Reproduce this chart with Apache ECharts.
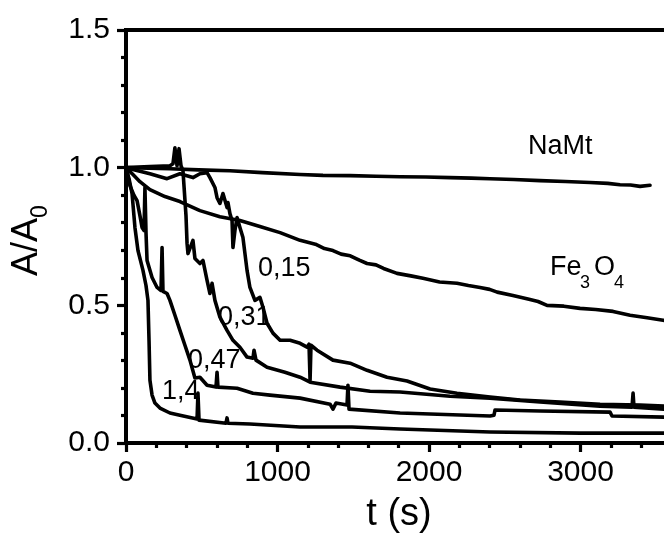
<!DOCTYPE html>
<html>
<head>
<meta charset="utf-8">
<script src="https://cdn.jsdelivr.net/npm/echarts@6/dist/echarts.min.js"></script>
<style>
  html, body { margin: 0; padding: 0; background: #fff; }
  #chart { width: 664px; height: 533px; }
</style>
</head>
<body>
<div id="chart"></div>
<script>
// Relative absorbance A/A0 versus time for each sample
const tNaMt = [0, 150, 290, 480, 686, 900, 1149, 1300, 1479, 1650, 1809, 1980, 2139, 2280, 2403, 2560, 2733, 2900, 3063, 3180, 3261, 3330, 3393, 3459];
const yNaMt = [1.000, 0.998, 0.996, 0.992, 0.989, 0.982, 0.975, 0.972, 0.971, 0.969, 0.967, 0.966, 0.964, 0.962, 0.960, 0.957, 0.953, 0.950, 0.946, 0.943, 0.938, 0.937, 0.932, 0.936];

const tFe = [0, 46, 92, 158, 257, 356, 488, 620, 752, 884, 1017, 1149, 1250, 1310, 1366, 1420, 1480, 1540, 1591, 1650, 1700, 1789, 1880, 1960, 2070, 2185, 2260, 2337, 2400, 2450, 2554, 2660, 2720, 2779, 2890, 2997, 3100, 3215, 3327, 3440, 3545, 3600];
const yFe = [1.000, 0.975, 0.949, 0.920, 0.895, 0.877, 0.844, 0.822, 0.808, 0.786, 0.764, 0.736, 0.722, 0.706, 0.699, 0.686, 0.680, 0.664, 0.652, 0.647, 0.634, 0.616, 0.607, 0.598, 0.585, 0.580, 0.572, 0.565, 0.558, 0.548, 0.536, 0.522, 0.514, 0.500, 0.497, 0.489, 0.485, 0.478, 0.464, 0.455, 0.446, 0.442];

const t015 = [0, 158, 271, 356, 442, 488, 535, 554, 587, 601, 620, 640, 667, 673, 686, 700, 706, 719, 733, 752, 772, 799, 818, 851, 884, 904, 931, 970, 1017, 1083, 1149, 1195, 1208, 1215, 1221, 1261, 1366, 1479, 1591, 1723, 1855, 2007, 2185, 2403, 2601, 2865, 3129, 3393, 3551, 3600];
const y015 = [1.000, 0.978, 0.960, 0.978, 0.964, 0.978, 0.982, 0.964, 0.928, 0.891, 0.870, 0.906, 0.855, 0.873, 0.833, 0.808, 0.710, 0.772, 0.819, 0.783, 0.746, 0.627, 0.565, 0.518, 0.529, 0.493, 0.435, 0.399, 0.373, 0.373, 0.362, 0.348, 0.359, 0.228, 0.355, 0.337, 0.301, 0.290, 0.264, 0.239, 0.225, 0.196, 0.181, 0.167, 0.156, 0.149, 0.141, 0.138, 0.134, 0.133];

const t031 = [0, 158, 290, 310, 323, 337, 350, 363, 376, 396, 403, 409, 442, 455, 488, 508, 535, 554, 568, 587, 620, 667, 706, 752, 799, 838, 845, 858, 931, 1049, 1149, 1215, 1413, 1611, 1809, 2139, 2403, 2733, 3129, 3340, 3347, 3353, 3551, 3600];
const y031 = [1.000, 1.004, 1.007, 1.014, 1.072, 1.007, 1.069, 1.007, 0.989, 0.826, 0.725, 0.688, 0.736, 0.670, 0.652, 0.663, 0.591, 0.543, 0.580, 0.518, 0.457, 0.409, 0.373, 0.348, 0.312, 0.308, 0.337, 0.301, 0.275, 0.257, 0.239, 0.221, 0.203, 0.188, 0.185, 0.170, 0.163, 0.149, 0.134, 0.130, 0.181, 0.130, 0.123, 0.122];

const t047 = [0, 26, 53, 73, 92, 106, 119, 125, 132, 139, 158, 172, 205, 231, 238, 244, 271, 290, 323, 356, 389, 422, 455, 488, 535, 594, 601, 607, 733, 838, 950, 1149, 1347, 1366, 1386, 1459, 1465, 1472, 1809, 2403, 2429, 2436, 2733, 3195, 3208, 3551, 3600];
const y047 = [1.000, 0.935, 0.899, 0.880, 0.826, 0.783, 0.772, 0.928, 0.764, 0.663, 0.627, 0.601, 0.565, 0.554, 0.710, 0.551, 0.543, 0.518, 0.464, 0.409, 0.355, 0.301, 0.236, 0.239, 0.210, 0.203, 0.257, 0.203, 0.199, 0.181, 0.174, 0.163, 0.141, 0.123, 0.145, 0.138, 0.210, 0.123, 0.109, 0.098, 0.101, 0.120, 0.116, 0.112, 0.098, 0.094, 0.094];

const t14 = [0, 20, 40, 59, 79, 112, 132, 145, 152, 158, 172, 191, 224, 290, 356, 469, 475, 482, 660, 667, 673, 818, 1149, 1492, 1498, 1505, 1809, 2403, 2997, 3551, 3600];
const y14 = [1.000, 0.960, 0.906, 0.783, 0.699, 0.627, 0.572, 0.518, 0.373, 0.228, 0.174, 0.145, 0.127, 0.109, 0.101, 0.087, 0.181, 0.083, 0.072, 0.091, 0.072, 0.069, 0.058, 0.058, 0.065, 0.054, 0.051, 0.040, 0.036, 0.036, 0.036];

const xTicks = { min: 0, max: 4000, step: 1000 };
const yTicks = { min: 0, max: 1.5, step: 0.5 };

const FONT = '"Liberation Sans", Arial, Helvetica, sans-serif';

function pairs(ts, ys) { return ts.map((t, i) => [t, ys[i]]); }

const seriesList = [
  pairs(tNaMt, yNaMt),
  pairs(tFe, yFe),
  pairs(t015, y015),
  pairs(t031, y031),
  pairs(t047, y047),
  pairs(t14, y14)
].map(d => ({
  type: 'line',
  data: d,
  showSymbol: false,
  symbol: 'none',
  clip: true,
  lineStyle: { color: '#000', width: 3.6, join: 'round', cap: 'round' },
  silent: true
}));

const chart = echarts.init(document.getElementById('chart'), null, { renderer: 'canvas' });

const tickFont = { color: '#000', fontSize: 30, fontFamily: FONT };

// plain text helper for the annotations
function txt(x, y, text, size, align) {
  return {
    type: 'text', x: x, y: y,
    style: { text: text, font: size + 'px ' + FONT, fill: '#000', align: align || 'left', verticalAlign: 'middle' }
  };
}

chart.setOption({
  animation: false,
  backgroundColor: '#fff',
  grid: {
    left: 126, top: 30, right: -68, bottom: 90,
    containLabel: false, outerBoundsMode: 'none',
    show: true, borderColor: '#000', borderWidth: 4, backgroundColor: 'transparent'
  },
  xAxis: {
    type: 'value',
    min: xTicks.min, max: xTicks.max, interval: xTicks.step,
    axisLine: { lineStyle: { color: '#000', width: 4 } },
    axisTick: { length: 9, lineStyle: { width: 3.2, color: '#000' } },
    minorTick: { show: true, splitNumber: 5, length: 5, lineStyle: { width: 3.2, color: '#000' } },
    splitLine: { show: false },
    axisLabel: Object.assign({ margin: 15, formatter: v => String(v) }, tickFont)
  },
  yAxis: {
    type: 'value',
    min: yTicks.min, max: yTicks.max, interval: yTicks.step,
    axisLine: { lineStyle: { color: '#000', width: 4 } },
    axisTick: { length: 9, lineStyle: { width: 3.2, color: '#000' } },
    minorTick: { show: true, splitNumber: 5, length: 5, lineStyle: { width: 3.2, color: '#000' } },
    splitLine: { show: false },
    axisLabel: Object.assign({ margin: 16, formatter: v => v.toFixed(1) }, tickFont)
  },
  series: seriesList,
  graphic: [
    txt(399, 515, 't (s)', 38, 'center'),
    {
      // rotated axis title A/A0 with subscript
      type: 'group', x: 27, y: 276, rotation: Math.PI / 2,
      children: [
        txt(0, 0, 'A/A', 36, 'left'),
        txt(58, 14, '0', 23, 'left')
      ]
    },
    txt(528, 147, 'NaMt', 27),
    txt(550, 268, 'Fe', 27),
    txt(580, 283, '3', 18),
    txt(594, 268, 'O', 27),
    txt(614, 283, '4', 18),
    txt(258, 269, '0,15', 27),
    txt(218, 318, '0,31', 27),
    txt(188, 361, '0,47', 27),
    txt(162, 392, '1,4', 27)
  ]
});
</script>
</body>
</html>
